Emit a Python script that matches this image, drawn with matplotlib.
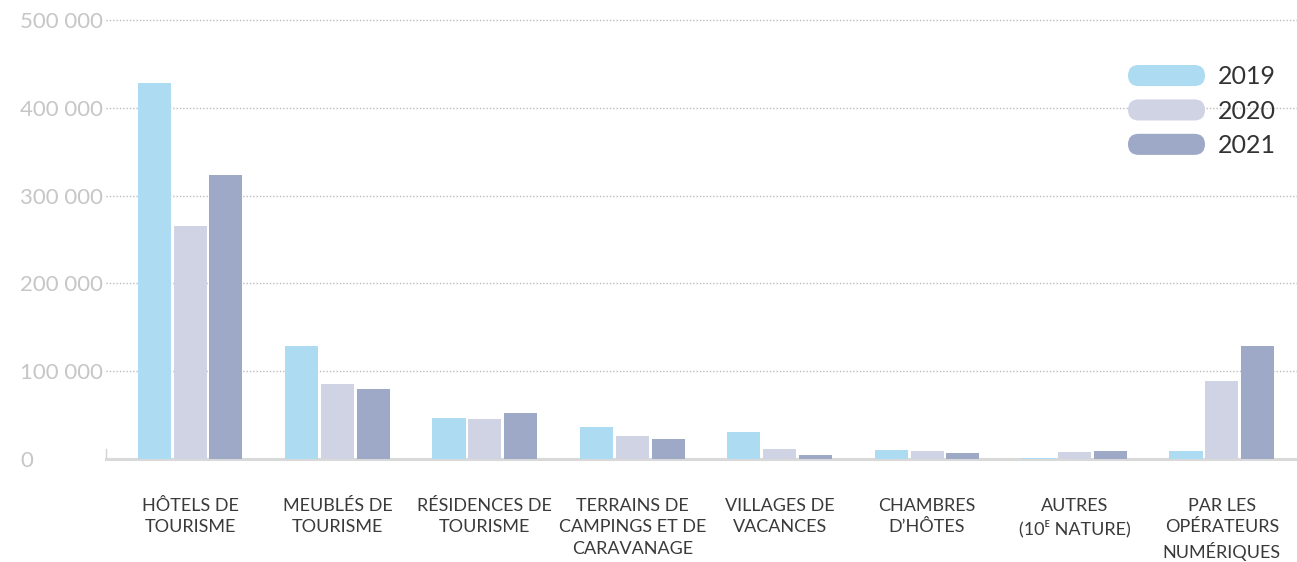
import numpy as np
import matplotlib
matplotlib.use("Agg")
import matplotlib.pyplot as plt
from matplotlib.patches import FancyBboxPatch, Patch
from matplotlib.legend_handler import HandlerBase
from matplotlib.ticker import FuncFormatter

# --- data -------------------------------------------------------------
categories = [
    "HÔTELS DE\nTOURISME",
    "MEUBLÉS DE\nTOURISME",
    "RÉSIDENCES DE\nTOURISME",
    "TERRAINS DE\nCAMPINGS ET DE\nCARAVANAGE",
    "VILLAGES DE\nVACANCES",
    "CHAMBRES\nD’HÔTES",
    "AUTRES\n(10ᴱ NATURE)",
    "PAR LES\nOPÉRATEURS\nNUMÉRIQUES",
]
years = ["2019", "2020", "2021"]
values_2019 = [428000, 128700, 46700, 36800, 30800, 10300, 1500, 9100]
values_2020 = [265000, 85400, 45500, 26200, 11400, 9100, 8000, 88800]
values_2021 = [323500, 79700, 52400, 22800, 4500, 6800, 9100, 128700]
y_ticks = [0, 100000, 200000, 300000, 400000, 500000]

colors = ["#addcf2", "#d0d3e4", "#9ea9c8"]

# --- figure -----------------------------------------------------------
W, H = 1297, 562
fig = plt.figure(figsize=(W / 100, H / 100), dpi=100)
ax = fig.add_axes([106 / W, 1 - 459 / H, 1 - 106 / W, (459 - 19) / H])

x = np.arange(len(categories))
step, width = 0.243, 0.224
series = [values_2019, values_2020, values_2021]
for i, (vals, col, yr) in enumerate(zip(series, colors, years)):
    ax.bar(x + (i - 1) * step, vals, width, color=col, label=yr, zorder=3,
           linewidth=0)

ax.set_xlim(-0.57, 7.51)
ax.set_ylim(0, 501000)

# grid
ax.set_yticks(y_ticks)
ax.yaxis.grid(True, color="#bdbdbd", linestyle=(0, (1, 1.4)), linewidth=1.0,
              zorder=0)
ax.set_axisbelow(True)

for s in ["top", "right", "left"]:
    ax.spines[s].set_visible(False)
ax.spines["bottom"].set_color("#d9d9d9")
ax.spines["bottom"].set_linewidth(2.2)
ax.spines["bottom"].set_zorder(2)
# short stub at the origin
ax.plot([-0.57, -0.57], [0, 11000], color="#d3d3d3", lw=1.0, zorder=2,
        clip_on=False)

# y tick labels
ax.yaxis.set_major_formatter(FuncFormatter(
    lambda v, p: f"{int(v):,}".replace(",", " ")))
ax.tick_params(axis="y", length=0, pad=62, labelcolor="#c6c6c6",
               labelsize=16)
for lab in ax.get_yticklabels():
    lab.set_ha("left")
    lab.set_family("Lato")

# x tick labels
ax.set_xticks(x)
ax.set_xticklabels(categories, fontsize=13, color="#3a3a3a",
                   family=["Lato", "DejaVu Sans"],
                   linespacing=1.42, va="top")
ax.tick_params(axis="x", length=0, pad=28)


# rounded legend keys
class PillHandler(HandlerBase):
    def create_artists(self, legend, orig_handle, xdescent, ydescent,
                       width, height, fontsize, trans):
        p = FancyBboxPatch((-xdescent, -ydescent), width, height,
                           boxstyle=f"round,pad=0,rounding_size={height / 2}",
                           facecolor=orig_handle.get_facecolor(),
                           edgecolor="none", transform=trans)
        return [p]


handles = [Patch(facecolor=c) for c in colors]
leg = fig.legend(handles, years, loc="upper left",
                 bbox_to_anchor=(1128 / W, 1 - 65 / H),
                 frameon=False, borderpad=0, borderaxespad=0,
                 handlelength=3.08, handleheight=0.92, handletextpad=0.52,
                 labelspacing=0.45,
                 handler_map={Patch: PillHandler()},
                 prop={"family": "Lato", "size": 18})
for t in leg.get_texts():
    t.set_color("#333333")

fig.savefig("out.png", dpi=100)
